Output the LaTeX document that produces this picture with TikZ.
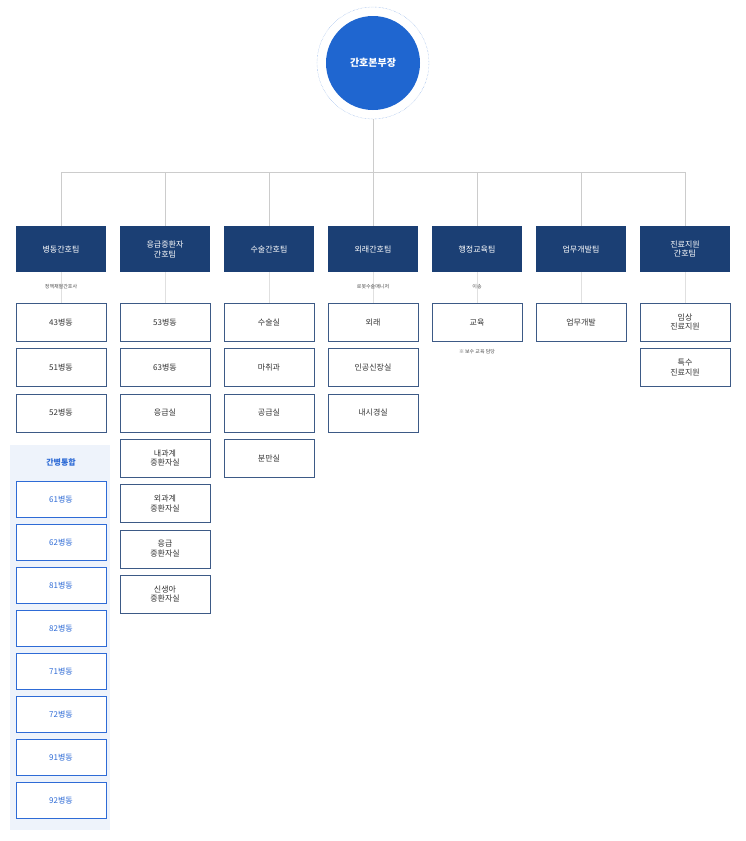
\documentclass[tikz,border=0pt]{standalone}
\usepackage{fontspec}
\setmainfont{Noto Sans CJK KR}
\definecolor{navy}{HTML}{1B3F74}
\definecolor{royal}{HTML}{1F66D0}
\definecolor{edge}{HTML}{3D5A86}
\definecolor{paleblue}{HTML}{EEF3FB}
\definecolor{wardblue}{HTML}{2E6BD6}
\begin{document}
\begin{tikzpicture}[
    x=1pt, y=-1pt,
    team/.style={
        inner sep=0pt,
        rectangle,
        fill=navy,
        text=white,
        minimum width=90pt,
        minimum height=46pt,
        align=center,
        font=\footnotesize,
        anchor=north,
    },
    unit/.style={
        inner sep=0pt,
        rectangle,
        draw=edge,
        fill=white,
        text=black!80,
        minimum width=90pt,
        minimum height=38pt,
        align=center,
        font=\footnotesize,
        anchor=north,
    },
    ward/.style={
        unit,
        draw=wardblue,
        text=wardblue,
        minimum height=36pt,
    },
    note/.style={
        font=\tiny,
        text=black!70,
    },
    every node/.style={
        font=\footnotesize,
    },
]
    \useasboundingbox (0,0) rectangle (745,841);
    \fill[white] (0,0) rectangle (745,841);

    % head
    \node[circle,draw=royal!60,densely dotted,minimum size=112pt] (ring) at (373,63) {};
    \node[circle,fill=royal,text=white,minimum size=94pt,font=\normalsize\bfseries] (head) at (373,63) {간호본부장};
    \coordinate (bus) at (373,172);
    \draw[black!20] (ring) -- (bus);
    \draw[black!20] (61,172) -- (685,172);

    % teams
    \foreach \name [count=\i] in {병동간호팀,{응급중환자\\간호팀},수술간호팀,외래간호팀,행정교육팀,업무개발팀,{진료지원\\간호팀}} {
        \coordinate (top\i) at (-43+104*\i,172);
        \node[team] (team\i) at (-43+104*\i,226) {\name};
        \draw[black!20] (top\i) -- (team\i);
        \draw[black!12] (team\i.south) -- ++(0,31);
    }

    \node[note] (lab1) at (61,287) {정맥채혈간호사};
    \node[note] (lab4) at (373,287) {로봇수술매니저};
    \node[note] (lab5) at (477,287) {이송};

    % units
    \foreach \col/\list in {1/{43병동,51병동,52병동},
                            2/{53병동,63병동,응급실,{내과계\\중환자실},{외과계\\중환자실},{응급\\중환자실},{신생아\\중환자실}},
                            3/{수술실,마취과,공급실,분만실},
                            4/{외래,인공신장실,내시경실},
                            5/{교육},
                            6/{업무개발},
                            7/{{임상\\진료지원},{특수\\진료지원}}} {
        \foreach \u [count=\r] in \list {
            \node[unit] (u\col-\r) at (-43+104*\col,303+45.3*\r-45.3) {\u};
        }
    }
    \node[note] (edu) at (477,352) {※ 보수 교육 담당};

    % integrated care wards
    \fill[paleblue] (10,445) rectangle (110,830);
    \node[text=wardblue,font=\footnotesize\bfseries] (care) at (61,462) {간병통합};
    \foreach \w [count=\r] in {61,62,81,82,71,72,91,92} {
        \node[ward] (w\r) at (61,481+43*\r-43) {\w{}병동};
    }
\end{tikzpicture}
\end{document}
